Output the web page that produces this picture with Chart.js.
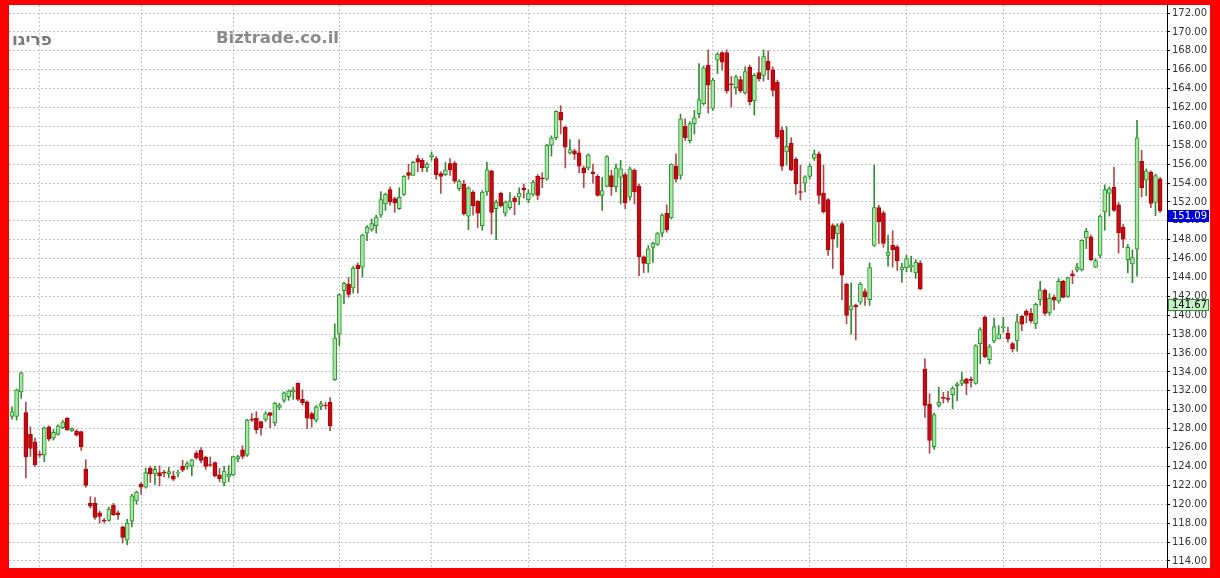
<!DOCTYPE html>
<html>
<head>
<meta charset="utf-8">
<script src="https://cdn.jsdelivr.net/npm/chart.js@4/dist/chart.umd.min.js"></script>
<style>
  html, body { margin: 0; padding: 0; }
  body { width: 1220px; height: 578px; background: #ff0000; position: relative; overflow: hidden; }
  #frame { position: absolute; left: 9px; top: 5px; width: 1201px; height: 563px; background: #ffffff; }
  .mark { position: absolute; font-family: "DejaVu Sans", sans-serif; font-weight: bold; color: #8a8a8a; white-space: nowrap; }
</style>
</head>
<body>
<div id="frame"><canvas id="chart"></canvas></div>
<div class="mark" style="left:12px; top:29px; font-size:17px; color:#7a7a7a;" dir="rtl">פריגו</div>
<div class="mark" style="left:216px; top:28px; font-size:16.5px;">Biztrade.co.il</div>
<script>
// daily candles, oldest first
var opens = [
  129.3,129.3,131.9,129.7,127.4,126.6,125.25,125.2,128.2,127.0,127.4,128.1,129.1,127.8,127.75,127.7,123.7,120.1,120.1,119.1,118.25,118.3,
  119.9,119.1,117.6,116.2,118.2,120.35,122.1,121.8,123.8,123.2,123.35,123.4,123.2,123.0,123.3,124.05,123.95,124.05,125.4,125.7,125.0,
  124.2,124.4,123.1,122.25,122.95,123.1,124.8,125.75,125.2,129.0,129.1,128.75,128.98,129.7,128.6,130.25,131.0,131.4,131.9,132.8,131.1,130.85,
  129.6,128.9,130.35,130.5,130.8,133.2,138.0,142.6,143.3,142.9,145.3,145.1,148.7,149.1,149.5,150.6,151.8,153.3,152.35,151.3,152.8,
  155.1,154.8,156.6,156.4,155.6,156.8,156.6,155.0,154.9,156.05,156.1,153.4,153.9,150.5,153.05,152.1,149.5,153.05,155.3,151.3,152.9,150.8,
  151.4,152.4,152.5,153.5,152.25,152.8,154.7,154.55,154.4,158.0,158.8,161.5,159.9,157.2,157.4,157.2,155.6,155.6,155.2,154.7,152.7,153.65,
  154.8,153.6,154.6,154.9,152.5,155.35,153.65,146.2,145.45,147.2,147.5,148.7,150.8,150.3,155.8,154.8,160.0,158.5,160.3,161.35,162.4,166.5,
  161.9,167.0,167.8,167.8,164.5,164.1,164.95,163.55,166.25,162.7,165.7,165.4,166.9,166.0,164.7,159.6,157.3,158.2,156.5,153.05,154.0,
  154.7,156.6,157.1,152.95,152.25,149.5,148.65,149.7,143.3,140.6,141.05,141.4,142.5,141.65,147.4,151.4,150.85,146.35,147.4,147.25,144.8,145.05,145.1,
  144.5,145.5,134.3,130.6,126.1,130.45,131.25,131.15,131.6,132.55,132.8,133.25,133.25,132.8,137.0,139.8,135.3,137.25,137.5,138.7,138.1,
  137.0,137.3,139.9,140.45,140.2,139.1,141.65,142.65,140.25,141.9,141.5,143.6,142.0,144.4,144.8,144.8,148.2,148.3,145.1,146.35,150.95,
  152.9,153.55,151.7,149.35,145.9,145.45,147.0,156.3,154.3,155.15,151.95,154.45
];
var highs = [
  130.3,132.2,134.0,130.8,128.2,127.0,125.6,128.2,128.3,127.9,128.4,128.9,129.2,128.1,127.9,127.75,124.7,120.8,120.7,119.3,118.5,119.7,
  120.1,119.3,117.7,118.4,121.05,121.4,122.3,123.8,124.05,124.05,124.05,123.6,123.9,123.5,123.6,124.65,124.5,124.75,125.65,126.0,125.1,
  125.0,124.5,123.8,124.0,124.1,125.1,125.2,126.2,129.0,129.6,129.8,128.75,129.8,129.7,130.8,130.7,131.9,132.1,132.4,132.85,132.1,130.95,
  129.75,130.45,130.9,130.8,131.3,139.1,142.3,143.5,144.0,145.2,145.55,148.6,149.5,150.2,150.6,153.1,152.95,153.6,152.5,153.5,154.8,
  156.0,156.3,156.95,156.6,156.2,157.3,156.8,155.2,156.2,156.6,156.3,154.35,154.3,153.6,153.2,152.15,153.2,156.2,155.35,152.2,153.05,152.1,
  153.0,152.6,153.5,153.9,153.3,154.3,154.9,155.1,158.1,159.0,161.65,162.2,160.05,158.6,157.6,158.6,155.8,157.1,156.0,154.9,154.6,156.9,
  155.35,156.0,156.4,155.1,155.7,155.5,153.9,146.3,147.4,147.75,148.8,150.75,151.7,156.05,157.1,161.3,160.8,160.5,161.7,166.65,166.4,168.1,
  165.1,167.8,167.9,168.1,165.3,165.4,165.3,166.3,166.5,165.6,167.35,168.1,168.0,166.3,164.9,159.95,160.0,158.8,156.7,155.9,154.8,
  156.05,157.5,157.3,155.9,152.35,149.7,149.7,149.9,143.4,143.4,141.2,143.5,142.8,145.55,155.9,151.65,151.05,148.5,148.95,147.4,145.5,146.35,146.25,
  145.9,145.8,135.4,131.7,129.65,132.4,131.85,131.95,132.45,132.9,133.95,133.35,133.5,136.9,138.7,139.95,136.9,139.7,138.9,139.8,138.75,
  137.15,140.1,140.0,140.6,140.7,141.3,143.6,142.8,142.3,142.15,143.9,143.7,144.05,144.75,145.5,148.0,149.2,148.5,146.0,150.6,153.8,
  153.6,155.7,151.95,149.65,147.5,146.9,160.65,157.45,155.5,155.3,154.95,154.6
];
var lows = [
  129.0,128.9,131.2,122.8,125.05,124.0,125.0,124.5,126.7,126.8,127.3,128.0,127.8,127.7,127.2,125.7,121.8,119.6,118.4,118.0,118.0,118.2,
  118.8,118.4,115.9,115.7,117.6,120.0,121.05,121.7,122.3,122.1,121.95,122.9,122.8,122.5,122.9,123.45,123.7,123.0,124.75,124.4,123.7,
  124.0,122.9,122.4,121.95,122.4,123.0,124.5,124.8,125.05,128.75,127.5,127.3,128.75,128.1,128.3,130.0,130.8,131.0,131.1,130.95,130.5,128.0,
  128.15,128.7,130.0,130.1,127.8,133.1,136.8,141.2,141.9,142.35,142.35,144.05,147.9,148.9,148.7,150.4,151.1,151.65,150.9,151.2,152.7,
  154.4,154.8,155.2,155.2,155.2,156.4,154.4,152.9,154.8,154.8,154.0,153.2,150.6,149.05,150.6,149.3,149.0,152.7,148.6,148.0,151.45,150.5,
  151.2,150.65,151.7,152.4,151.9,152.6,152.25,153.5,154.3,156.85,158.6,159.2,155.6,157.05,156.5,155.1,153.5,155.4,154.0,152.6,151.1,153.6,
  152.7,153.05,151.8,151.3,152.2,151.8,144.2,144.5,144.55,145.6,147.4,148.3,148.8,150.2,154.1,154.4,158.5,158.25,159.2,160.9,162.25,161.4,
  161.7,165.6,165.95,163.5,162.05,163.4,163.55,163.4,162.25,161.2,164.8,164.8,164.95,163.2,158.7,155.35,155.9,155.3,152.8,152.2,153.05,
  154.4,156.4,151.8,150.8,146.35,144.95,147.2,141.65,139.1,138.0,137.4,141.15,141.05,141.05,147.3,147.6,147.2,145.2,145.1,144.75,143.5,144.6,144.6,
  143.9,142.7,129.2,125.4,125.8,130.3,130.7,130.8,130.1,130.95,132.55,131.6,132.4,132.7,134.9,135.5,134.85,137.1,137.5,138.2,137.15,
  136.1,136.2,138.35,139.2,139.2,138.6,141.05,140.0,140.0,140.6,141.3,141.85,141.9,143.35,144.6,144.7,147.05,145.75,145.05,146.1,149.0,
  150.5,151.0,146.6,147.15,144.5,143.45,144.15,152.55,152.65,151.4,150.55,150.9
];
var closes = [
  129.8,132.1,133.9,125.0,125.9,124.2,125.2,128.1,126.9,127.6,128.3,128.7,127.9,128.0,127.3,126.1,122.0,119.8,118.6,118.7,118.2,119.5,
  118.9,118.9,116.5,118.0,120.9,121.3,121.8,123.35,123.2,123.7,123.0,123.3,123.45,122.65,123.35,123.6,124.3,124.7,124.9,124.65,124.0,
  124.1,123.0,122.7,123.5,123.2,125.05,125.05,125.05,128.9,128.9,127.9,128.1,129.6,129.4,130.7,130.5,131.8,132.0,132.1,131.1,130.75,129.1,
  129.05,130.3,130.65,130.4,128.3,137.6,142.2,143.4,142.2,145.0,144.95,148.5,149.35,149.7,150.4,152.25,152.8,152.0,151.9,152.5,154.7,
  154.8,156.2,156.2,155.6,156.0,157.0,154.9,154.7,155.4,155.4,154.2,154.2,150.75,153.5,151.6,150.8,153.05,155.4,150.9,152.0,151.6,152.0,
  152.1,152.0,152.95,153.3,152.95,154.1,152.7,154.4,158.0,158.8,161.6,160.65,157.8,157.55,157.05,155.8,155.1,157.0,155.0,152.7,153.2,156.8,
  153.6,155.6,155.5,151.9,155.5,153.05,146.2,145.5,147.05,147.65,148.65,150.6,149.05,156.0,154.4,160.8,158.8,160.3,160.9,162.85,166.2,164.35,
  164.9,167.65,166.8,163.75,164.4,165.25,163.75,165.8,162.6,165.4,165.05,167.4,165.95,163.8,158.9,155.8,157.9,155.4,153.9,153.0,154.65,
  155.8,157.1,152.7,150.95,146.95,148.1,149.5,144.25,140.0,141.0,140.9,143.3,141.95,145.05,151.4,149.9,147.6,146.7,146.95,145.75,145.1,146.0,145.3,
  145.6,142.8,130.45,126.75,129.5,130.8,131.2,131.1,132.3,132.75,133.15,132.8,133.1,136.8,138.5,135.6,136.7,138.8,138.0,138.75,137.5,
  136.45,139.3,139.05,140.0,139.4,141.15,142.7,140.2,141.8,141.6,143.6,141.9,144.0,144.2,145.1,147.95,148.9,145.9,145.8,150.5,153.3,
  153.4,151.1,148.75,148.05,147.2,146.1,158.8,153.5,155.3,151.85,154.8,151.09
];

// first trading day of each month (candle index) -> vertical grid lines
var monthStarts = [6, 28, 48, 71, 91, 112, 133, 152, 173, 194, 215, 236];
// price axis tick labels
var priceTicks = [114,116,118,120,122,124,126,128,130,132,134,136,138,140,142,144,146,148,150,152,154,156,158,160,162,164,166,168,170,172];
var lastPrice = 151.09;
var refPrice = 141.67;

var upFill = '#a3e8a3', upLine = '#2f8f2f';
var downFill = '#c00c12', downLine = '#b00008', downWick = '#b04a4a';

function isUp(i) { return closes[i] >= opens[i]; }

var wickData = lows.map(function(l, i) { return { x: i, y: [l, highs[i]] }; });
var bodyData = opens.map(function(o, i) { return { x: i, y: [o, closes[i]] }; });

// price boxes at the right axis
var priceBoxes = {
  id: 'priceBoxes',
  afterDraw: function(chart) {
    var ctx = chart.ctx, y = chart.scales.y, area = chart.chartArea;
    function box(value, fill, stroke, textColor) {
      var py = Math.round(y.getPixelForValue(value));
      var left = area.right + 1, top = py - 1, w = 41, h = 12;
      ctx.save();
      ctx.fillStyle = fill;
      ctx.fillRect(left, top, w, h);
      if (stroke) {
        ctx.strokeStyle = stroke;
        ctx.lineWidth = 1;
        ctx.strokeRect(left + 0.5, top + 0.5, w - 1, h - 1);
      }
      ctx.fillStyle = textColor;
      ctx.font = '10px "DejaVu Sans"';
      ctx.textBaseline = 'middle';
      ctx.fillText(value.toFixed(2), left + 4, top + h / 2 + 0.5);
      ctx.restore();
    }
    box(refPrice, '#c6f2c6', '#3c8c3c', '#000000');
    box(lastPrice, '#0000dd', null, '#ffffff');
  }
};

var ctx = document.getElementById('chart').getContext('2d');
var chart = new Chart(ctx, {
  type: 'bar',
  data: {
    datasets: [{
      label: 'range',
      data: wickData,
      barThickness: 1,
      grouped: false,
      order: 2,
      borderWidth: 0,
      backgroundColor: function(c) { return isUp(c.dataIndex) ? upLine : downWick; }
    }, {
      label: 'body',
      data: bodyData,
      barThickness: 4,
      grouped: false,
      order: 1,
      minBarLength: 1,
      borderWidth: 1,
      borderSkipped: false,
      backgroundColor: function(c) { return isUp(c.dataIndex) ? upFill : downFill; },
      borderColor: function(c) { return isUp(c.dataIndex) ? upLine : downLine; }
    }]
  },
  options: {
    responsive: true,
    maintainAspectRatio: false,
    animation: false,
    layout: { padding: 0 },
    plugins: {
      legend: { display: false },
      tooltip: { enabled: false }
    },
    scales: {
      x: {
        type: 'linear',
        offset: false,
        min: -0.65,
        max: 250.5,
        ticks: { display: false },
        grid: { color: '#c4c4c4', drawTicks: false, offset: false },
        border: { display: false, dash: [2, 2] },
        afterBuildTicks: function(s) { s.ticks = monthStarts.map(function(v) { return { value: v }; }); },
        afterFit: function(s) { s.height = 0; }
      },
      y: {
        position: 'right',
        min: 113.25,
        max: 172.85,
        ticks: {
          padding: 2,
          color: '#333333',
          font: { family: 'DejaVu Sans', size: 10 },
          callback: function(v) { return Number(v).toFixed(2); }
        },
        grid: { color: '#c4c4c4', tickColor: '#000000', tickLength: 3 },
        border: { display: true, color: '#000000', dash: [2, 2] },
        afterBuildTicks: function(s) { s.ticks = priceTicks.map(function(v) { return { value: v }; }); },
        afterFit: function(s) { s.width = 43; s.paddingTop = 0; s.paddingBottom = 0; }
      }
    }
  },
  plugins: [priceBoxes]
});
</script>
</body>
</html>
